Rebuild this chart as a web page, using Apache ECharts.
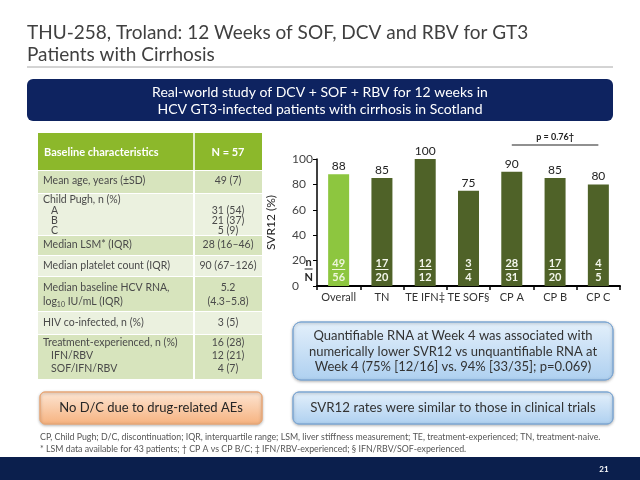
<!DOCTYPE html>
<html><head><meta charset="utf-8">
<script src="https://cdn.jsdelivr.net/npm/echarts@6/dist/echarts.min.js"></script>
<style>html,body{margin:0;padding:0;background:#fff}#c{width:640px;height:480px}</style>
</head><body><div id="c"></div>
<script>
// ---- data ----
const categories = ['Overall', 'TN', 'TE IFN‡', 'TE SOF§', 'CP A', 'CP B', 'CP C'];
const svr12 = [88, 85, 100, 75, 90, 85, 80];
const nResp = [49, 17, 12, 3, 28, 17, 4];
const nTotal = [56, 20, 12, 4, 31, 20, 5];
const yMin = 0, yMax = 100, yStep = 20;
const pText = 'p = 0.76†';

const titleLines = ['THU-258, Troland: 12 Weeks of SOF, DCV and RBV for GT3', 'Patients with Cirrhosis'];
const bannerLines = ['Real-world study of DCV + SOF + RBV for 12 weeks in', 'HCV GT3-infected patients with cirrhosis in Scotland'];
const tableHeader = ['Baseline characteristics', 'N = 57'];
const tableLabels = [
  ['Mean age, years (±SD)'],
  ['Child Pugh, n (%)', '   A', '   B', '   C'],
  ['Median LSM* (IQR)'],
  ['Median platelet count (IQR)'],
  ['Median baseline HCV RNA,', 'log{sub|10} IU/mL (IQR)'],
  ['HIV co-infected, n (%)'],
  ['Treatment-experienced, n (%)', '   IFN/RBV', '   SOF/IFN/RBV']
];
const tableValues = [
  ['49 (7)'],
  ['', '31 (54)', '21 (37)', '5 (9)'],
  ['28 (16–46)'],
  ['90 (67–126)'],
  ['5.2', '(4.3–5.8)'],
  ['3 (5)'],
  ['16 (28)', '12 (21)', '4 (7)']
];
const noteOrange = 'No D/C due to drug-related AEs';
const noteBlue1 = ['Quantifiable RNA at Week 4 was associated with', 'numerically lower SVR12 vs unquantifiable RNA at', 'Week 4 (75% [12/16] vs. 94% [33/35]; p=0.069)'];
const noteBlue2 = 'SVR12 rates were similar to those in clinical trials';
const footnotes = [
  'CP, Child Pugh; D/C, discontinuation; IQR, interquartile range; LSM, liver stiffness measurement; TE, treatment-experienced; TN, treatment-naive.',
  '* LSM data available for 43 patients; † CP A vs CP B/C; ‡ IFN/RBV-experienced; § IFN/RBV/SOF-experienced.'
];
const pageNo = '21';

// ---- layout ----
const FONT = 'Lato, "Open Sans", sans-serif';
const NAVY = '#0e2360';
const g = [];
// title
titleLines.forEach((t, i) => g.push({type: 'text', style: {text: t, x: 27, y: 33 + i * 22, font: '19px ' + FONT, fill: '#404040', textVerticalAlign: 'middle'}}));
g.push({type: 'line', shape: {x1: 27, y1: 67, x2: 613, y2: 67}, style: {stroke: '#a8a8a8', lineWidth: 1}});
// banner
g.push({type: 'rect', shape: {x: 27, y: 79, width: 586, height: 42, r: 6}, style: {fill: NAVY}});
bannerLines.forEach((t, i) => g.push({type: 'text', style: {text: t, x: 320, y: 92 + i * 17, font: '14px ' + FONT, fill: '#fff', textAlign: 'center', textVerticalAlign: 'middle'}}));
// table
const TX0 = 38, TX1 = 194, TX2 = 262;
g.push({type: 'rect', shape: {x: TX0, y: 133, width: TX2 - TX0, height: 37}, style: {fill: '#8cb82b'}});
g.push({type: 'line', shape: {x1: TX1, y1: 133, x2: TX1, y2: 170}, style: {stroke: '#fff', lineWidth: 1.5}});
g.push({type: 'text', style: {text: tableHeader[0], x: 44, y: 152, font: 'bold 11px ' + FONT, fill: '#fff', textVerticalAlign: 'middle'}});
g.push({type: 'text', style: {text: tableHeader[1], x: 228, y: 152, font: 'bold 11px ' + FONT, fill: '#fff', textAlign: 'center', textVerticalAlign: 'middle'}});
const rowBounds = [[171, 193], [194, 235], [236, 255], [256, 276], [277, 311], [312, 334], [335, 379]];
const rowTextY = [[181], [200, 210.5, 221, 231], [245], [265.5], [288, 302], [323], [343, 356, 368.5]];
rowBounds.forEach((b, i) => {
  const fill = i % 2 === 0 ? '#d7e4bd' : '#ebf1df';
  g.push({type: 'rect', shape: {x: TX0, y: b[0], width: TX1 - TX0 - 1, height: b[1] - b[0]}, style: {fill}});
  g.push({type: 'rect', shape: {x: TX1 + 1, y: b[0], width: TX2 - TX1 - 1, height: b[1] - b[0]}, style: {fill}});
  tableLabels[i].forEach((t, j) => g.push({type: 'text', style: {
    text: t, x: 43, y: rowTextY[i][j], font: '10.5px ' + FONT, fill: '#4a4a4a', textVerticalAlign: 'middle',
    rich: {sub: {fontSize: 7, verticalAlign: 'bottom', padding: [6, 0, 0, 0], fill: '#4a4a4a', fontFamily: 'Lato'}}}}));
  tableValues[i].forEach((t, j) => g.push({type: 'text', style: {
    text: t, x: 228, y: rowTextY[i][j], font: '10.5px ' + FONT, fill: '#4a4a4a', textAlign: 'center', textVerticalAlign: 'middle'}}));
});
// orange box
g.push({type: 'rect', shape: {x: 40, y: 392, width: 222, height: 32, r: 5},
  style: {fill: new echarts.graphic.LinearGradient(0, 0, 0, 1, [{offset: 0, color: '#fde6d4'}, {offset: 1, color: '#f6b27f'}]),
    stroke: '#e9a878', lineWidth: 1, shadowBlur: 3, shadowColor: 'rgba(0,0,0,0.25)', shadowOffsetY: 1}});
g.push({type: 'text', style: {text: noteOrange, x: 151, y: 408, font: '13px ' + FONT, fill: '#262626', textAlign: 'center', textVerticalAlign: 'middle'}});
// blue boxes
const blueFill = () => new echarts.graphic.LinearGradient(0, 0, 0, 1, [{offset: 0, color: '#e4f0fb'}, {offset: 1, color: '#aed0f0'}]);
g.push({type: 'rect', shape: {x: 293, y: 322, width: 320, height: 58, r: 8},
  style: {fill: blueFill(), stroke: '#7ea8d4', lineWidth: 1, shadowBlur: 3, shadowColor: 'rgba(0,0,0,0.25)', shadowOffsetY: 1}});
noteBlue1.forEach((t, i) => g.push({type: 'text', style: {text: t, x: 453, y: 336 + i * 15.5, font: '13px ' + FONT, fill: '#333', textAlign: 'center', textVerticalAlign: 'middle'}}));
g.push({type: 'rect', shape: {x: 293, y: 392, width: 320, height: 32, r: 6},
  style: {fill: blueFill(), stroke: '#7ea8d4', lineWidth: 1, shadowBlur: 3, shadowColor: 'rgba(0,0,0,0.25)', shadowOffsetY: 1}});
g.push({type: 'text', style: {text: noteBlue2, x: 453, y: 408, font: '13.3px ' + FONT, fill: '#333', textAlign: 'center', textVerticalAlign: 'middle'}});
// footnotes
footnotes.forEach((t, i) => g.push({type: 'text', style: {text: t, x: 40, y: 437 + i * 12, font: '8.8px ' + FONT, fill: '#555', textVerticalAlign: 'middle'}}));
// bottom bar
g.push({type: 'rect', shape: {x: 0, y: 457, width: 640, height: 23}, style: {fill: '#0b1f4d'}});
g.push({type: 'text', style: {text: pageNo, x: 604, y: 469, font: 'bold 8px ' + FONT, fill: '#fff', textAlign: 'center', textVerticalAlign: 'middle'}});

const chart = echarts.init(document.getElementById('c'), null, {renderer: 'canvas'});
const nnData = categories.map((c, i) => [i, nResp[i], nTotal[i]]);
chart.setOption({
  animation: false,
  backgroundColor: '#fff',
  textStyle: {fontFamily: FONT},
  grid: {left: 317, right: 20, top: 159, bottom: 194},
  xAxis: {
    type: 'category', data: categories,
    axisLine: {lineStyle: {color: '#000', width: 2}},
    axisTick: {show: true, length: 4, lineStyle: {color: '#000', width: 1.5}},
    axisLabel: {interval: 0, color: '#333', fontSize: 11, margin: 6, fontFamily: FONT}
  },
  yAxis: {
    type: 'value', min: yMin, max: yMax, interval: yStep,
    name: 'SVR12 (%)', nameLocation: 'middle', nameRotate: 90, nameGap: 40,
    nameTextStyle: {color: '#222', fontSize: 12, fontFamily: FONT},
    axisLine: {show: true, lineStyle: {color: '#000', width: 1.5}},
    axisTick: {show: true, length: 4, lineStyle: {color: '#000'}},
    axisLabel: {color: '#444', fontSize: 12, margin: 25, align: 'left', fontFamily: FONT},
    splitLine: {show: false}
  },
  series: [
    {
      type: 'bar', barWidth: 21,
      data: svr12.map((v, i) => ({value: v, itemStyle: {color: i === 0 ? '#8dc63f' : '#4f6228'}})),
      label: {show: true, position: 'top', distance: 2, color: '#222', fontSize: 12, fontFamily: FONT}
    },
    {
      type: 'custom', data: nnData, z: 10,
      renderItem: function (params, api) {
        const idx = api.value(0);
        const p = api.coord([idx, 0]);
        const col = idx === 0 ? '#eef6dc' : '#f4f7ec';
        const nTxt = String(api.value(1));
        const w = nTxt.length * 6.6;
        const kids = [
          {type: 'text', style: {text: nTxt, x: p[0], y: p[1] - 23, font: 'bold 11px ' + FONT, fill: col, textAlign: 'center', textVerticalAlign: 'middle'}},
          {type: 'line', shape: {x1: p[0] - w / 2, y1: p[1] - 16.5, x2: p[0] + w / 2, y2: p[1] - 16.5}, style: {stroke: col, lineWidth: 1}},
          {type: 'text', style: {text: String(api.value(2)), x: p[0], y: p[1] - 9, font: 'bold 11px ' + FONT, fill: col, textAlign: 'center', textVerticalAlign: 'middle'}}
        ];
        if (idx === 0) {
          kids.push({type: 'text', style: {text: 'n', x: p[0] - 30, y: p[1] - 24, font: 'bold 11px ' + FONT, fill: '#222', textAlign: 'center', textVerticalAlign: 'middle'}});
          kids.push({type: 'line', shape: {x1: p[0] - 34, y1: p[1] - 17, x2: p[0] - 26, y2: p[1] - 17}, style: {stroke: '#222', lineWidth: 1}});
          kids.push({type: 'text', style: {text: 'N', x: p[0] - 30, y: p[1] - 9, font: 'bold 11px ' + FONT, fill: '#222', textAlign: 'center', textVerticalAlign: 'middle'}});
        }
        return {type: 'group', children: kids};
      }
    }
  ],
  graphic: g
});
// p-value bracket between CP A and CP C
const xa = chart.convertToPixel({xAxisIndex: 0}, 'CP A');
const xc = chart.convertToPixel({xAxisIndex: 0}, 'CP C');
const yL = 145;
g.push({type: 'line', shape: {x1: xa, y1: yL, x2: xc, y2: yL}, style: {stroke: '#222', lineWidth: 1.2}});
g.push({type: 'text', style: {text: pText, x: (xa + xc) / 2, y: yL - 8, font: 'bold 9px ' + FONT, fill: '#222', textAlign: 'center', textVerticalAlign: 'middle'}});
chart.setOption({graphic: g});
</script></body></html>
